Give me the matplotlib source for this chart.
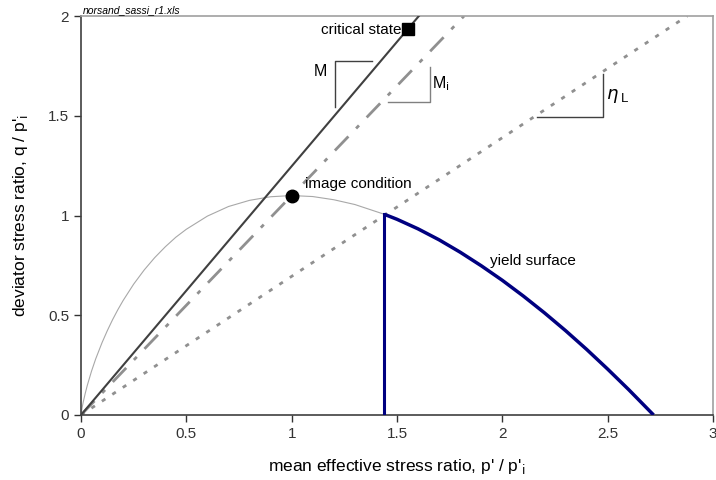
import numpy as np
import matplotlib
matplotlib.use("Agg")
import matplotlib.pyplot as plt

plt.rcParams['font.family'] = ['Liberation Sans', 'DejaVu Sans']

# yield surface (p'/p'i, q/p'i)
p_inner = [0.0, 0.005, 0.01, 0.02, 0.03, 0.05, 0.07, 0.1, 0.125, 0.15, 0.175, 0.2,
           0.25, 0.3, 0.35, 0.4, 0.45, 0.5, 0.6, 0.7, 0.8, 0.9, 1.0, 1.1, 1.2, 1.3, 1.44]
q_inner = [0.0, 0.035, 0.062, 0.108, 0.149, 0.220, 0.282, 0.363, 0.423, 0.478, 0.528,
           0.574, 0.656, 0.727, 0.789, 0.843, 0.891, 0.931, 0.997, 1.045, 1.076,
           1.094, 1.100, 1.095, 1.079, 1.055, 1.006]
p_yield = [1.44, 1.5, 1.6, 1.7, 1.8, 1.9, 2.0, 2.1, 2.2, 2.3, 2.4, 2.5, 2.6, 2.718]
q_yield = [1.006, 0.981, 0.933, 0.878, 0.816, 0.748, 0.675, 0.596, 0.512, 0.423,
           0.329, 0.230, 0.127, 0.0]

# stress ratio lines
M = 1.247
Mi = 1.10
etaL = 0.695
critical = (1.552, 1.935)
image_pt = (1.0, 1.1)

fig = plt.figure(figsize=(7.16, 4.8), dpi=100)
ax = fig.add_axes([81/716, 1-415/480, (713-81)/716, (415-16)/480])

ax.plot([0, 2.0/M], [0, 2.0], color="#404040", lw=1.5, zorder=3)
ax.plot([0, 2.0/Mi], [0, 2.0], color="#909090", lw=2, dashes=(7, 4, 1.5, 4), zorder=2)
ax.plot([0, 2.0/etaL], [0, 2.0], color="#909090", lw=2, dashes=(1.5, 3), zorder=2)

ax.plot(p_inner, q_inner, color="#a8a8a8", lw=0.8, zorder=2)
ax.plot(p_yield, q_yield, color="#000080", lw=2.5, zorder=4, solid_capstyle="butt")
ax.plot([p_yield[0], p_yield[0]], [0, q_yield[0]], color="#000080", lw=2.2, zorder=4)

ax.plot(*critical, marker="s", color="black", ms=8, zorder=5)
ax.plot(*image_pt, marker="o", color="black", ms=9, zorder=5)

# slope triangles
tri = dict(color="#404040", lw=1.0)
ax.plot([1.205, 1.205, 1.381], [1.543, 1.774, 1.774], **tri)
ax.plot([1.457, 1.656, 1.656], [1.568, 1.568, 1.744], color="#808080", lw=1.0)
ax.plot([2.164, 2.477, 2.477], [1.492, 1.492, 1.709], **tri)

ax.text(1.17, 1.72, "M", fontsize=11.5, ha="right", va="center")
ax.text(1.665, 1.66, "M$_{\\rm i}$", fontsize=11.5, ha="left", va="center")
ax.text(2.49, 1.60, "$\\eta$", fontsize=13, ha="left", va="center")
ax.text(2.565, 1.585, "L", fontsize=9.5, ha="left", va="center")
ax.text(1.52, 1.93, "critical state", fontsize=11, ha="right", va="center")
ax.text(1.065, 1.16, "image condition", fontsize=11, ha="left", va="center")
ax.text(1.94, 0.77, "yield surface", fontsize=11, ha="left", va="center")
ax.text(0.01, 2.005, "norsand_sassi_r1.xls", fontsize=7.5, style="italic",
        ha="left", va="bottom")

ax.set_xlim(0, 3)
ax.set_ylim(0, 2)
ax.set_xticks([0, 0.5, 1, 1.5, 2, 2.5, 3])
ax.set_xticklabels(["0", "0.5", "1", "1.5", "2", "2.5", "3"])
ax.set_yticks([0, 0.5, 1, 1.5, 2])
ax.set_yticklabels(["0", "0.5", "1", "1.5", "2"])
ax.tick_params(direction="out", length=5, width=1, labelsize=11, colors="#333333")
ax.spines["left"].set_color("#404040")
ax.spines["bottom"].set_color("#404040")
ax.spines["top"].set_color("#a0a0a0")
ax.spines["right"].set_color("#a0a0a0")
for s in ax.spines.values():
    s.set_linewidth(1.2)

ax.set_xlabel("mean effective stress ratio, p' / p'$_{\\rm i}$", fontsize=12.5)
ax.xaxis.set_label_coords(0.5, -0.105)
ax.set_ylabel("deviator stress ratio, q / p'$_{\\rm i}$", fontsize=12.5)
ax.yaxis.set_label_coords(-0.08, 0.5)

fig.savefig("out.png", dpi=100)
